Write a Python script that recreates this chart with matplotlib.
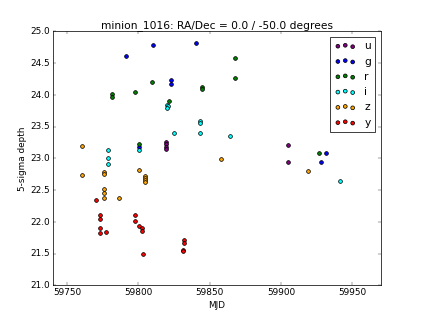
import matplotlib
matplotlib.use("Agg")
import matplotlib.pyplot as plt

plt.style.use('classic')

# filter -> (mjd, 5-sigma depth)
u_mjd = [59819.2, 59819.2, 59819.2, 59819.2, 59905.1, 59905.1]
u_depth = [23.26, 23.22, 23.18, 23.15, 23.21, 22.94]

g_mjd = [59791.6, 59810.4, 59840.3, 59823.2, 59823.2, 59800.3, 59931.3, 59928.3]
g_depth = [24.61, 24.79, 24.82, 24.24, 24.17, 23.18, 23.08, 22.94]

r_mjd = [59781.6, 59781.6, 59797.4, 59809.4, 59868.1, 59868.1, 59844.3, 59844.3,
         59821.3, 59800.3, 59926.4]
r_depth = [24.01, 23.96, 24.04, 24.20, 24.58, 24.27, 24.12, 24.10, 23.91, 23.22, 23.09]

i_mjd = [59820.2, 59820.5, 59820.2, 59843.1, 59843.1, 59825.1, 59843.1, 59864.1,
         59778.5, 59778.5, 59778.5, 59800.3, 59941.3]
i_depth = [23.84, 23.82, 23.80, 23.59, 23.56, 23.40, 23.40, 23.35, 23.13, 23.00,
           22.91, 23.13, 22.64]

z_mjd = [59760.5, 59760.5, 59775.7, 59775.7, 59775.7, 59775.7, 59775.7, 59786.2,
         59800.3, 59804.3, 59804.3, 59804.3, 59804.3, 59858.3, 59919.1]
z_depth = [23.20, 22.74, 22.78, 22.76, 22.51, 22.46, 22.38, 22.37, 22.82, 22.72,
           22.69, 22.66, 22.63, 22.99, 22.80]

y_mjd = [59770.4, 59773.4, 59773.4, 59773.4, 59773.4, 59777.6, 59797.4, 59797.4,
         59800.5, 59802.4, 59802.4, 59803.4, 59832.3, 59832.3, 59831.4, 59831.4]
y_depth = [22.34, 22.11, 22.04, 21.91, 21.83, 21.84, 22.10, 22.02, 21.94, 21.90,
           21.86, 21.49, 21.72, 21.66, 21.56, 21.54]

filters = ['u', 'g', 'r', 'i', 'z', 'y']
colors = ['purple', 'blue', 'green', 'cyan', 'orange', 'red']
data = [(u_mjd, u_depth), (g_mjd, g_depth), (r_mjd, r_depth),
        (i_mjd, i_depth), (z_mjd, z_depth), (y_mjd, y_depth)]

fig = plt.figure(figsize=(8, 6), dpi=52.875)
ax = fig.add_subplot(111)
for f, c, (m, d) in zip(filters, colors, data):
    ax.scatter(m, d, c=c, s=26, label=f)

ax.set_xlim(59740, 59970)
ax.set_ylim(21, 25)
ax.ticklabel_format(useOffset=False)
ax.set_xlabel('MJD')
ax.set_ylabel('5-sigma depth')
ax.set_title('minion_1016: RA/Dec = 0.0 / -50.0 degrees')
ax.legend(loc='upper right')

fig.savefig('out.png', dpi=52.875)
